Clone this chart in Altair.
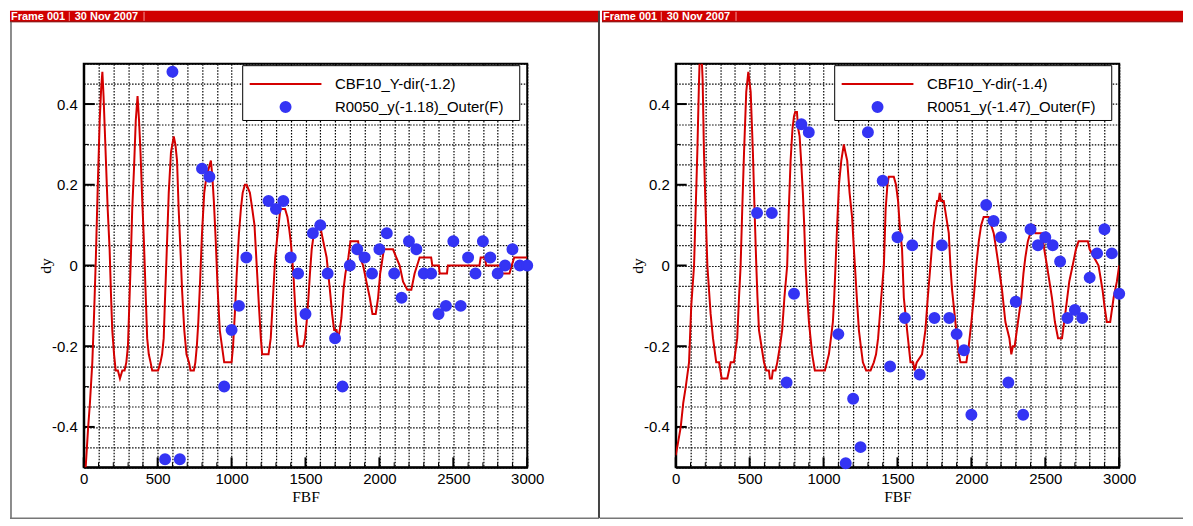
import altair as alt
import pandas as pd

# ---------------- data ----------------
L_LINE_NAME = "CBF10_Y-dir(-1.2)"
L_PTS_NAME = "R0050_y(-1.18)_Outer(F)"
R_LINE_NAME = "CBF10_Y-dir(-1.4)"
R_PTS_NAME = "R0051_y(-1.47)_Outer(F)"

L_LINE_X = [0, 13, 30, 42, 58, 70, 82, 95, 108, 118, 126, 134, 142, 150, 162, 175, 185, 193, 205, 216,
            231, 245, 261, 276, 288, 299, 308, 317, 328, 340, 352, 364, 374, 384, 396, 407, 418, 429, 440, 452,
            463, 474, 503, 519, 530, 541, 550, 560, 575, 590, 609, 620, 631, 642, 654, 665, 680, 695, 712, 722,
            745, 755, 765, 775, 787, 800, 815, 830, 845, 860, 870, 880, 893, 906, 920, 935, 950, 962, 1000, 1010,
            1022, 1035, 1050, 1063, 1075, 1090, 1102, 1124, 1140, 1155, 1170, 1185, 1198, 1207, 1250, 1265, 1280, 1295, 1312, 1330,
            1362, 1378, 1390, 1400, 1418, 1430, 1440, 1452, 1485, 1497, 1508, 1520, 1530, 1542, 1553, 1575, 1598, 1620, 1643, 1665,
            1680, 1694, 1710, 1721, 1732, 1743, 1757, 1770, 1790, 1804, 1856, 1868, 1890, 1912, 1935, 1953, 1975, 1991, 2005, 2014,
            2030, 2092, 2114, 2137, 2160, 2189, 2216, 2238, 2255, 2272, 2350, 2358, 2402, 2408, 2457, 2463, 2677, 2685, 2715, 2722,
            2820, 2828, 2880, 2895, 2912, 3000]
L_LINE_Y = [-0.56, -0.50, -0.40, -0.34, -0.24, -0.12, 0.02, 0.20, 0.36, 0.44, 0.48, 0.42, 0.34, 0.26, 0.14, 0.04, -0.08, -0.16, -0.22, -0.26,
            -0.26, -0.28, -0.26, -0.26, -0.24, -0.20, -0.10, 0.00, 0.14, 0.24, 0.36, 0.42, 0.36, 0.28, 0.16, 0.06, -0.06, -0.18, -0.22, -0.24,
            -0.26, -0.26, -0.26, -0.24, -0.22, -0.18, -0.08, 0.02, 0.18, 0.28, 0.32, 0.30, 0.26, 0.14, 0.04, -0.06, -0.16, -0.22, -0.24, -0.26,
            -0.26, -0.24, -0.20, -0.14, -0.04, 0.08, 0.18, 0.22, 0.24, 0.26, 0.22, 0.16, 0.06, -0.06, -0.16, -0.20, -0.24, -0.24, -0.24, -0.20,
            -0.12, -0.02, 0.08, 0.14, 0.18, 0.20, 0.20, 0.18, 0.14, 0.10, 0.00, -0.10, -0.18, -0.22, -0.22, -0.18, -0.08, 0.02, 0.08, 0.14,
            0.14, 0.12, 0.09, 0.06, -0.02, -0.10, -0.16, -0.20, -0.20, -0.18, -0.14, -0.08, -0.02, 0.04, 0.07, 0.09, 0.10, 0.06, 0.02, -0.06,
            -0.12, -0.16, -0.16, -0.18, -0.16, -0.13, -0.06, -0.02, 0.02, 0.06, 0.06, 0.02, 0.00, -0.04, -0.08, -0.12, -0.12, -0.08, -0.02, 0.00,
            0.04, 0.04, 0.02, 0.00, -0.04, -0.06, -0.06, -0.02, 0.00, 0.02, 0.02, 0.00, 0.00, -0.02, -0.02, 0.00, 0.00, 0.02, 0.02, 0.00,
            0.00, -0.02, -0.02, 0.00, 0.02, 0.02]

L_PTS_X = [550, 600, 650, 800, 850, 950, 1000, 1050, 1100,
           1250, 1300, 1350, 1400, 1450, 1500, 1550, 1600, 1650, 1700, 1750, 1800, 1850, 1900, 1950, 2000, 2050,
           2100, 2150, 2200, 2250, 2300, 2350, 2400, 2450, 2500, 2550, 2600, 2650, 2700, 2750, 2800, 2850, 2900,
           2950, 3000]
L_PTS_Y = [-0.48, 0.48, -0.48, 0.24, 0.22, -0.30, -0.16, -0.10, 0.02,
           0.16, 0.14, 0.16, 0.02, -0.02, -0.12, 0.08, 0.10, -0.02, -0.18, -0.30, 0.00, 0.04, 0.02, -0.02, 0.04, 0.08,
           -0.02, -0.08, 0.06, 0.04, -0.02, -0.02, -0.12, -0.10, 0.06, -0.10, 0.02, -0.02, 0.06, 0.02, -0.02, 0.00, 0.04,
           0.00, 0.00]

R_LINE_X = [0, 15, 34, 51, 68, 90, 105, 124, 135, 146, 157, 166, 175, 182, 191, 202, 214, 225, 236, 252,
            274, 293, 311, 349, 372, 394, 416, 428, 439, 450, 462, 477, 491, 507, 522, 533, 545, 553, 563, 580,
            597, 612, 630, 637, 650, 657, 675, 687, 705, 720, 735, 754, 765, 777, 790, 800, 808, 820, 828, 838,
            848, 860, 869, 878, 890, 901, 923, 941, 1009, 1036, 1050, 1063, 1072, 1081, 1092, 1104, 1120, 1137, 1148, 1160,
            1176, 1193, 1202, 1212, 1225, 1239, 1252, 1266, 1288, 1318, 1340, 1355, 1369, 1390, 1408, 1420, 1432, 1441, 1475, 1490,
            1504, 1515, 1531, 1543, 1565, 1588, 1606, 1615, 1630, 1666, 1689, 1705, 1723, 1745, 1768, 1778, 1786, 1795, 1813, 1830,
            1847, 1858, 1869, 1886, 1903, 1915, 1926, 1966, 1982, 2000, 2016, 2033, 2050, 2066, 2083, 2117, 2134, 2151, 2168, 2184,
            2207, 2230, 2257, 2270, 2281, 2293, 2315, 2338, 2352, 2365, 2382, 2399, 2410, 2422, 2433, 2478, 2493, 2511, 2528, 2545,
            2565, 2586, 2613, 2635, 2662, 2685, 2707, 2725, 2788, 2800, 2830, 2860, 2887, 2900, 2916, 2939, 2962, 2984, 3000]
R_LINE_Y = [-0.47, -0.44, -0.40, -0.34, -0.30, -0.24, -0.10, 0.00, 0.14, 0.28, 0.45, 0.56, 0.52, 0.46, 0.28, 0.14, 0.00, -0.06, -0.12, -0.18,
            -0.24, -0.24, -0.28, -0.28, -0.24, -0.24, -0.18, -0.08, 0.00, 0.14, 0.28, 0.43, 0.48, 0.43, 0.28, 0.14, 0.00, -0.08, -0.16, -0.20,
            -0.24, -0.26, -0.26, -0.28, -0.28, -0.26, -0.26, -0.24, -0.20, -0.16, -0.08, 0.00, 0.14, 0.26, 0.34, 0.37, 0.38, 0.38, 0.34, 0.32,
            0.26, 0.18, 0.10, 0.00, -0.08, -0.14, -0.22, -0.26, -0.26, -0.22, -0.18, -0.14, -0.08, 0.00, 0.10, 0.20, 0.26, 0.30, 0.28, 0.26,
            0.18, 0.12, 0.06, 0.00, -0.08, -0.16, -0.20, -0.24, -0.26, -0.26, -0.24, -0.22, -0.18, -0.08, 0.00, 0.14, 0.20, 0.22, 0.22, 0.20,
            0.16, 0.10, 0.04, -0.08, -0.16, -0.24, -0.24, -0.26, -0.24, -0.22, -0.16, -0.08, 0.00, 0.10, 0.16, 0.16, 0.18, 0.16, 0.16, 0.12,
            0.08, 0.00, -0.06, -0.12, -0.18, -0.22, -0.24, -0.24, -0.20, -0.14, -0.08, 0.00, 0.06, 0.10, 0.12, 0.12, 0.10, 0.08, 0.04, 0.00,
            -0.06, -0.14, -0.18, -0.22, -0.20, -0.20, -0.14, -0.08, -0.02, 0.02, 0.06, 0.08, 0.10, 0.10, 0.08, 0.08, 0.04, 0.00, -0.04, -0.08,
            -0.14, -0.18, -0.18, -0.12, -0.04, 0.00, 0.04, 0.06, 0.06, 0.04, 0.02, 0.00, -0.06, -0.10, -0.14, -0.14, -0.08, -0.04, 0.00]

R_PTS_X = [550, 650, 750, 800, 850, 900, 1100, 1150, 1200, 1250, 1300,
           1400, 1450, 1500, 1550, 1600, 1650, 1750, 1800, 1850, 1900, 1950, 2000,
           2100, 2150, 2200, 2250, 2300, 2350, 2400, 2450, 2500, 2550, 2600, 2650, 2700, 2750,
           2800, 2850, 2900, 2950, 3000]
R_PTS_Y = [0.13, 0.13, -0.29, -0.07, 0.35, 0.33, -0.17, -0.49, -0.33, -0.45, 0.33,
           0.21, -0.25, 0.07, -0.13, 0.05, -0.27, -0.13, 0.05, -0.13, -0.17, -0.21, -0.37,
           0.15, 0.11, 0.07, -0.29, -0.09, -0.37, 0.09, 0.05, 0.07, 0.05, 0.01, -0.13, -0.11, -0.13,
           -0.03, 0.03, 0.09, 0.03, -0.07]

X_GRID = list(range(0, 3001, 100))
Y_GRID = [round(-0.5 + 0.05 * i, 2) for i in range(21)]
X_MAJOR = [0, 500, 1000, 1500, 2000, 2500, 3000]
X_MINOR = [v for v in X_GRID if v % 500 != 0]
Y_MAJOR = [-0.4, -0.2, 0.0, 0.2, 0.4]
Y_MINOR = [-0.3, -0.1, 0.1, 0.3]

HEADER_LEFT = "Frame 001"
HEADER_DATE = "30 Nov 2007"

# ---------------- styling ----------------
W, H = 445, 405
RED = "#d40000"
BLUE = "#3434f4"
SANS = "Liberation Sans"
SERIF = "Liberation Serif"

XS = alt.Scale(domain=[0, 3000], nice=False, zero=False)
YS = alt.Scale(domain=[-0.5, 0.5], nice=False, zero=False)

GRID = dict(grid=True, gridDash=[1.5, 1.5], gridColor="#000000", gridOpacity=1, gridWidth=1.2)

XAXIS = alt.Axis(values=X_GRID, labelExpr="datum.value % 500 == 0 ? '' + datum.value : ''",
                 ticks=False, labelFont=SANS, labelFontSize=15, labelColor="black", labelPadding=4,
                 labelOverlap=False, labelFlush=False, domainColor="black", domainWidth=2,
                 title="FBF", titleFont=SERIF, titleFontSize=15.5, titleFontWeight="normal",
                 titleColor="black", titleX=W / 2, titleY=29, titleBaseline="middle", titleAlign="center",
                 **GRID)
YAXIS = alt.Axis(values=Y_GRID, labelExpr="round(datum.value * 20) % 4 == 0 ? '' + datum.value : ''",
                 ticks=False, labelFont=SANS, labelFontSize=15, labelColor="black", labelPadding=6.5,
                 labelOverlap=False, labelFlush=False, domainColor="black", domainWidth=2,
                 title="dy", titleFont=SERIF, titleFontSize=15.5, titleFontWeight="normal",
                 titleColor="black", titleX=-38, titleY=H / 2, titleAngle=270,
                 titleBaseline="middle", titleAlign="center", **GRID)

LEG = alt.Legend(title=None, orient="none", legendX=195, legendY=13)

ONE = pd.DataFrame({"k": [0]})


def xenc(field="fbf"):
    return alt.X(f"{field}:Q", scale=XS, axis=XAXIS)


def yenc(field="dy"):
    return alt.Y(f"{field}:Q", scale=YS, axis=YAXIS)


def rect(x1, x2, y1, y2, **kw):
    return alt.Chart(ONE).mark_rect(**kw).encode(
        x=alt.value(x1), x2=alt.value(x2), y=alt.value(y1), y2=alt.value(y2))


def rule(x1, x2, y1, y2, **kw):
    return alt.Chart(ONE).mark_rule(**kw).encode(
        x=alt.value(x1), x2=alt.value(x2), y=alt.value(y1), y2=alt.value(y2))


def text(x, y, s, **kw):
    return alt.Chart(ONE).mark_text(**kw).encode(x=alt.value(x), y=alt.value(y), text=alt.value(s))


def header(x0, x1):
    # frame header bar (coordinates relative to the panel's plot origin)
    return [
        rect(x0, x1, -53, -42, color="#d00000"),
        rule(x0, x1, -42, -42, color="#7a0000", strokeWidth=1),
        text(x0 + 1, -47.2, HEADER_LEFT, color="white", font=SANS, fontSize=11,
             fontWeight="bold", align="left", baseline="middle"),
        rule(x0 + 59.5, x0 + 59.5, -52, -43, color="#f39a9a", strokeWidth=1),
        text(x0 + 65, -47.2, HEADER_DATE, color="white", font=SANS, fontSize=11,
             fontWeight="bold", align="left", baseline="middle"),
        rule(x0 + 134.5, x0 + 134.5, -52, -43, color="#f39a9a", strokeWidth=1),
    ]


def ticks():
    df_xmaj = pd.DataFrame({"fbf": X_MAJOR})
    df_xmin = pd.DataFrame({"fbf": X_MINOR})
    df_ymaj = pd.DataFrame({"dy": Y_MAJOR})
    df_ymin = pd.DataFrame({"dy": Y_MINOR})
    return [
        alt.Chart(df_xmaj).mark_rule(color="black", strokeWidth=2).encode(
            x=xenc(), y=alt.value(H), y2=alt.value(H - 10)),
        alt.Chart(df_xmin).mark_rule(color="black", strokeWidth=1).encode(
            x=xenc(), y=alt.value(H), y2=alt.value(H - 5)),
        alt.Chart(df_ymaj).mark_rule(color="black", strokeWidth=2).encode(
            y=yenc(), x=alt.value(0), x2=alt.value(11)),
        alt.Chart(df_ymin).mark_rule(color="black", strokeWidth=1).encode(
            y=yenc(), x=alt.value(0), x2=alt.value(5)),
    ]


def panel(lx, ly, lname, px, py, pname, decor):
    dom = [lname, pname]
    col = alt.Scale(domain=dom, range=[RED, BLUE])
    shp = alt.Scale(domain=dom, range=["M-7.2,0H7.2", "circle"])
    line_df = pd.DataFrame({"fbf": lx, "dy": ly, "series": lname})
    pts_df = pd.DataFrame({"fbf": px, "dy": py, "series": pname})
    box = rect(159.5, 437.5, 2, 57, fill="white", stroke="black", strokeWidth=1)
    line = alt.Chart(line_df).mark_line(strokeWidth=2, clip=True).encode(
        x=xenc(), y=yenc(), stroke=alt.Stroke("series:N", scale=col, legend=LEG))
    pts = alt.Chart(pts_df).mark_point(filled=True, size=100, strokeWidth=2, opacity=1).encode(
        x=xenc(), y=yenc(),
        fill=alt.Fill("series:N", scale=col, legend=LEG),
        stroke=alt.Stroke("series:N", scale=col, legend=LEG),
        shape=alt.Shape("series:N", scale=shp, legend=LEG))
    return alt.layer(*decor, *ticks(), box, line, pts).properties(width=W, height=H)


left_decor = header(-74, 516) + [
    rule(-73, -73, -42, 456, color="#666666", strokeWidth=1.5),
    rule(517, 517, -53, 456, color="#444444", strokeWidth=2),
    rule(-74, 517, 456, 456, color="#777777", strokeWidth=1.5),
]
right_decor = header(-74, 509) + [
    rule(-76, 509, 456, 456, color="#777777", strokeWidth=1.5),
]

left = panel(L_LINE_X, L_LINE_Y, L_LINE_NAME, L_PTS_X, L_PTS_Y, L_PTS_NAME, left_decor)
right = panel(R_LINE_X, R_LINE_Y, R_LINE_NAME, R_PTS_X, R_PTS_Y, R_PTS_NAME, right_decor)

chart = alt.hconcat(left, right, spacing=149, bounds="flush").resolve_scale(
    stroke="independent", fill="independent", shape="independent", x="independent", y="independent"
).properties(padding=0, background="white").configure_view(
    stroke="black", strokeWidth=2
).configure_legend(
    labelFont=SANS, labelFontSize=15, labelColor="black", labelOffset=42, rowPadding=5,
    symbolStrokeWidth=2, symbolSize=100, padding=0, labelLimit=400, symbolOpacity=1
)

chart.save("out.html", embed_options={"renderer": "svg", "actions": False})
